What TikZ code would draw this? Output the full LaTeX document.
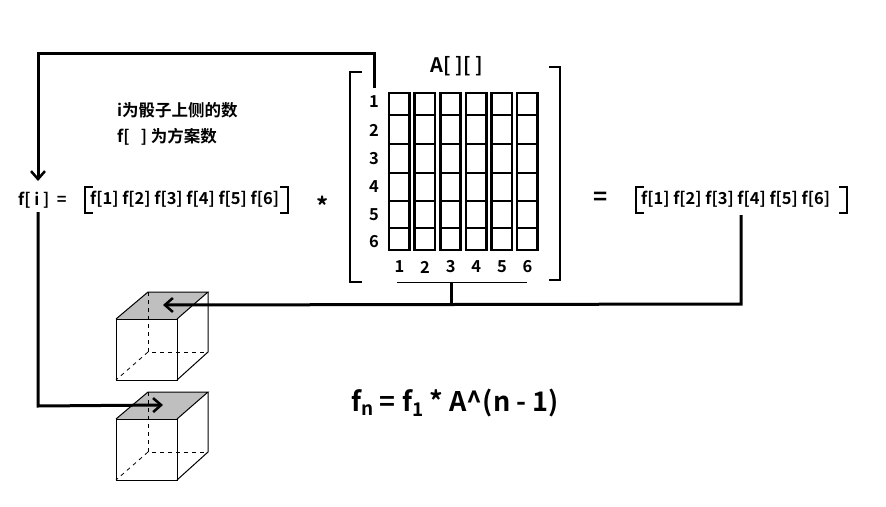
\documentclass[tikz,border=0pt]{standalone}
\usepackage{fontspec}
\setmainfont{Noto Sans CJK SC}[BoldFont={Noto Sans CJK SC Bold}]
\usetikzlibrary{arrows.meta}
\begin{document}
\begin{tikzpicture}[x=1pt,y=-1pt,
  thick line/.style={line width=2.6pt},
  wire/.style={line width=3pt},
  txt/.style={font=\bfseries\fontsize{16.5}{18}\selectfont,inner sep=0pt},
  arr/.style={-{Straight Barb[length=8pt,width=14pt,line width=2.5pt]}},
  cubeline/.style={line width=1pt},
  hid/.style={line width=0.8pt,dash pattern=on 4pt off 4pt}]
\useasboundingbox (0,0) rectangle (886,506);
% matrix
\node[txt,font=\bfseries\fontsize{20}{22}\selectfont] (A) at (457,66) {A[ ][ ]};
\draw[thick line] (362,72) -- (350,72) -- (350,282) -- (362,282);
\draw[thick line] (549,67) -- (560,67) -- (560,280) -- (549,280);
\foreach \i in {0,...,5}{
  \pgfmathsetmacro{\xa}{389+25.6*\i}
  \draw[thick line] (\xa,93) rectangle (\xa+20.5,250);
  \foreach \yy in {115,144,173,201,228} \draw[thick line] (\xa,\yy) -- (\xa+20.5,\yy);
  \node[txt] at (\xa+10.5,267) {\the\numexpr\i+1\relax};
}
\foreach \yy/\n in {102/1,130/2,159/3,187/4,215/5,242/6} \node[txt] at (374,\yy) {\n};
\draw[line width=1pt] (397,282) -- (527,282);
% left vector
\node[txt,anchor=west] (fi) at (18,200) {f[ i ] \ =};
\draw[thick line] (93,187) -- (85,187) -- (85,213) -- (93,213);
\node[txt,anchor=west] (fv) at (90,199) {f[1] f[2] f[3] f[4] f[5] f[6]};
\draw[thick line] (280,187) -- (288,187) -- (288,213) -- (280,213);
\node[txt,font=\bfseries\fontsize{24}{26}\selectfont] (star) at (323,206) {*};
\node[txt,font=\bfseries\fontsize{24}{26}\selectfont] (eq) at (601,199) {=};
% right vector
\draw[thick line] (644,187) -- (636,187) -- (636,213) -- (644,213);
\node[txt,anchor=west] (rv) at (641,199) {f[1] f[2] f[3] f[4] f[5] f[6]};
\draw[thick line] (839,187) -- (847,187) -- (847,213) -- (839,213);
% notes
\node[txt,anchor=west] (n1) at (117,110) {i为骰子上侧的数};
\node[txt,anchor=west] (n2) at (117,137) {f[\ \ \ ] 为方案数};
\node[txt,font=\bfseries\fontsize{27}{30}\selectfont] (fn) at (455,403) {f\textsubscript{n} = f\textsubscript{1} * A\^{}(n - 1)};
% cubes
\foreach \cy/\nm in {0/c1,100/c2}{
  \fill[gray!50] (116,319+\cy) -- (148,292+\cy) -- (208,292+\cy) -- (177,319+\cy) -- cycle;
  \draw[cubeline] (116,319+\cy) rectangle (177,380+\cy);
  \draw[cubeline] (116,319+\cy) -- (148,292+\cy) -- (208,292+\cy) -- (177,319+\cy);
  \draw[cubeline] (208,292+\cy) -- (208,352+\cy) -- (177,380+\cy);
  \draw[hid] (148,292+\cy) -- (148,352+\cy) -- (208,352+\cy);
  \draw[hid] (148,352+\cy) -- (116,380+\cy);
  \coordinate (\nm) at (163,305+\cy);
}
% connectors
\coordinate (t1) at (374,88);
\draw[wire,arr] (t1) -- (374,53) -- (38,53) -- (38,181);
\draw[wire,arr] (38,212) -- (38,406) -- (c2);
\draw[wire] (451,282) -- (451,304);
\draw[wire,arr] (741,215) -- (741,304) -- (c1);
\end{tikzpicture}
\end{document}
